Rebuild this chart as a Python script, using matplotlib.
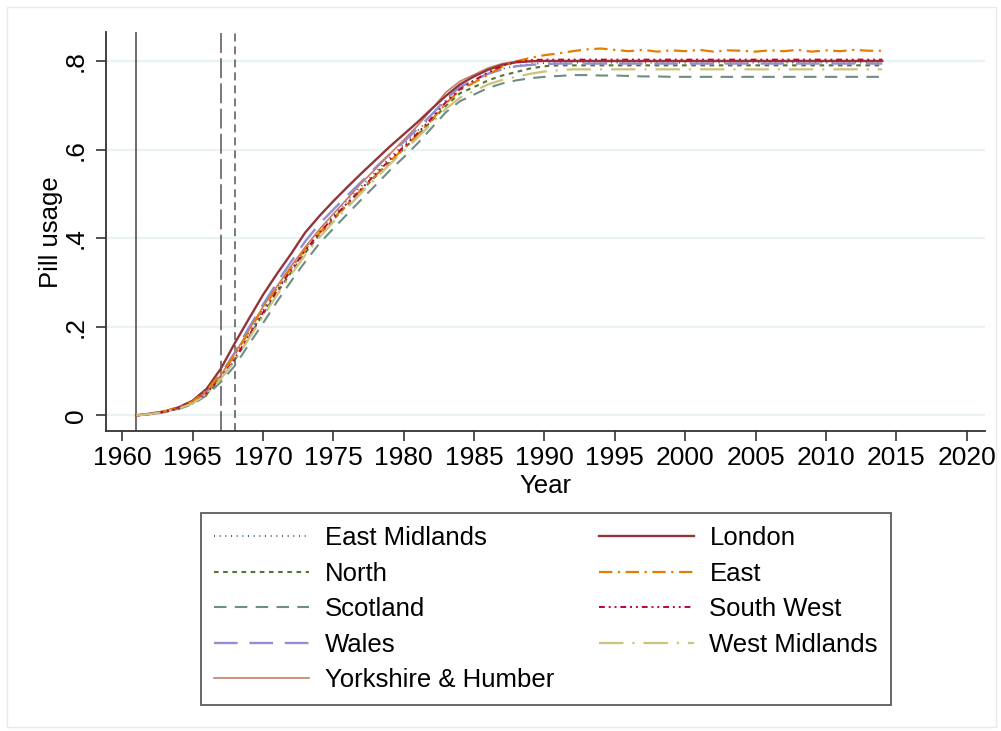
import numpy as np
import matplotlib
matplotlib.use("Agg", force=True)
import matplotlib.pyplot as plt
from matplotlib.patches import Rectangle

plt.rcParams['font.family'] = ['Liberation Sans', 'DejaVu Sans']

years = list(range(1961, 2015))

# 1961..1990 rising part, then 1991..2014 plateau
east_midlands = [0.000, 0.003, 0.008, 0.016, 0.029, 0.052, 0.088, 0.135, 0.187, 0.238,
                 0.287, 0.333, 0.377, 0.417, 0.452, 0.486, 0.518, 0.550, 0.582, 0.612,
                 0.643, 0.677, 0.712, 0.740, 0.757, 0.772, 0.783, 0.790, 0.794, 0.796] + [0.797] * 24
london = [0.000, 0.004, 0.009, 0.018, 0.033, 0.060, 0.105, 0.163, 0.218, 0.272,
          0.320, 0.365, 0.413, 0.450, 0.484, 0.516, 0.547, 0.577, 0.607, 0.635,
          0.663, 0.693, 0.722, 0.748, 0.766, 0.781, 0.792, 0.798, 0.800, 0.801] + [0.801] * 24
north = [0.000, 0.003, 0.008, 0.015, 0.027, 0.048, 0.082, 0.125, 0.177, 0.228,
         0.277, 0.323, 0.367, 0.407, 0.442, 0.476, 0.508, 0.540, 0.572, 0.602,
         0.633, 0.666, 0.700, 0.728, 0.742, 0.757, 0.768, 0.776, 0.784, 0.789] + [0.791] * 24
east = [0.000, 0.003, 0.009, 0.018, 0.031, 0.056, 0.095, 0.135, 0.190, 0.242,
        0.288, 0.333, 0.375, 0.412, 0.445, 0.478, 0.510, 0.542, 0.573, 0.603,
        0.635, 0.668, 0.705, 0.735, 0.752, 0.770, 0.788, 0.800, 0.808, 0.814,
        0.818, 0.823, 0.827, 0.829, 0.826, 0.823, 0.826, 0.822, 0.825, 0.823,
        0.826, 0.822, 0.825, 0.824, 0.822, 0.825, 0.823, 0.826, 0.822, 0.825,
        0.823, 0.826, 0.824, 0.824]
scotland = [0.000, 0.002, 0.007, 0.014, 0.025, 0.045, 0.075, 0.112, 0.160, 0.208,
            0.257, 0.303, 0.347, 0.388, 0.422, 0.455, 0.488, 0.520, 0.553, 0.583,
            0.615, 0.650, 0.685, 0.710, 0.725, 0.740, 0.750, 0.757, 0.762, 0.765,
            0.767, 0.769, 0.769, 0.768, 0.768, 0.767, 0.766, 0.766] + [0.765] * 16
south_west = [0.000, 0.003, 0.008, 0.016, 0.028, 0.050, 0.085, 0.128, 0.180, 0.232,
              0.282, 0.328, 0.372, 0.412, 0.447, 0.480, 0.512, 0.545, 0.577, 0.607,
              0.638, 0.672, 0.708, 0.737, 0.757, 0.775, 0.790, 0.799, 0.803, 0.804] + [0.804] * 24
wales = [0.000, 0.003, 0.008, 0.017, 0.030, 0.055, 0.092, 0.142, 0.198, 0.250,
         0.300, 0.347, 0.393, 0.432, 0.465, 0.497, 0.528, 0.560, 0.590, 0.618,
         0.648, 0.680, 0.715, 0.742, 0.758, 0.772, 0.782, 0.789, 0.792, 0.794] + [0.795] * 24
west_midlands = [0.000, 0.003, 0.008, 0.015, 0.027, 0.048, 0.082, 0.123, 0.173, 0.223,
                 0.272, 0.318, 0.362, 0.402, 0.437, 0.470, 0.503, 0.535, 0.567, 0.597,
                 0.628, 0.660, 0.693, 0.718, 0.733, 0.748, 0.758, 0.765, 0.772, 0.777] + [0.780] + [0.782] * 23
yorkshire = [0.000, 0.003, 0.008, 0.016, 0.029, 0.052, 0.090, 0.140, 0.192, 0.245,
             0.292, 0.337, 0.380, 0.420, 0.455, 0.490, 0.525, 0.557, 0.590, 0.622,
             0.655, 0.692, 0.730, 0.755, 0.770, 0.785, 0.795, 0.800, 0.801, 0.801] + [0.800] * 24

x_ticks = list(range(1960, 2021, 5))
y_ticks = [0, 0.2, 0.4, 0.6, 0.8]
y_ticklabels = ['0', '.2', '.4', '.6', '.8']

# (label, data, colour, dashes, width) -- order as in the legend, column-wise
series = [
    ("East Midlands", east_midlands, "#1a476f", (0.6, 2.8), 1.2),
    ("North", north, "#55752f", (2.2, 2.2), 1.5),
    ("Scotland", scotland, "#6e8e84", (6, 4), 1.5),
    ("Wales", wales, "#938dd2", (10, 5), 1.7),
    ("Yorkshire & Humber", yorkshire, "#c0806a", None, 1.2),
    ("London", london, "#90353b", None, 1.7),
    ("East", east, "#e37e00", (6, 2.5, 1, 2.5), 1.6),
    ("South West", south_west, "#c10534", (3, 2, 1, 2, 1, 2), 1.4),
    ("West Midlands", west_midlands, "#cac27e", (11, 4, 1, 4), 1.6),
]

fs = 18.5

fig = plt.figure(figsize=(10.01, 7.31), dpi=100)
ax = fig.add_axes([0.106, 0.410, 0.878, 0.546])

# faint outer frame of the graph region
fig.patches.append(Rectangle((0.007, 0.005), 0.988, 0.985, transform=fig.transFigure,
                             fill=False, edgecolor="#e6ecee", linewidth=1.0))

for yv in y_ticks:
    ax.axhline(yv, color="#eaf2f3", lw=1.6, zorder=0)

ax.axvline(1961, color="#444444", lw=1.1, zorder=1)
ax.axvline(1967, color="#555555", lw=1.1, dashes=(13, 3.5), zorder=1)
ax.axvline(1968, color="#555555", lw=1.1, dashes=(5.2, 3.3), zorder=1)

handles = []
for label, vals, col, dash, lw in series:
    ln, = ax.plot(years, vals, color=col, lw=lw, label=label, zorder=2)
    if dash is not None:
        ln.set_dashes(dash)
    handles.append(ln)

ax.set_xlim(1958.86, 2021.3)
ax.set_ylim(-0.036, 0.866)
ax.set_xticks(x_ticks)
ax.set_yticks(y_ticks)
ax.set_yticklabels(y_ticklabels, rotation=90, va='center')
ax.tick_params(labelsize=19, length=7, width=1.2, color="#333333")
ax.tick_params(axis='y', pad=6)

for s in ['top', 'right']:
    ax.spines[s].set_visible(False)
for s in ['left', 'bottom']:
    ax.spines[s].set_color("#333333")
    ax.spines[s].set_linewidth(1.3)

ax.set_xlabel("Year", fontsize=fs, labelpad=3)
ax.set_ylabel("Pill usage", fontsize=fs, labelpad=1)

leg = fig.legend(handles=handles, loc='upper center', bbox_to_anchor=(0.5455, 0.298),
                 ncol=2, fontsize=fs, frameon=True, fancybox=False, borderaxespad=0,
                 handlelength=3.7, handletextpad=0.6, columnspacing=1.75,
                 labelspacing=0.45, borderpad=0.5)
leg.get_frame().set_edgecolor("#333333")
leg.get_frame().set_linewidth(1.3)

fig.savefig("out.png", dpi=100)
